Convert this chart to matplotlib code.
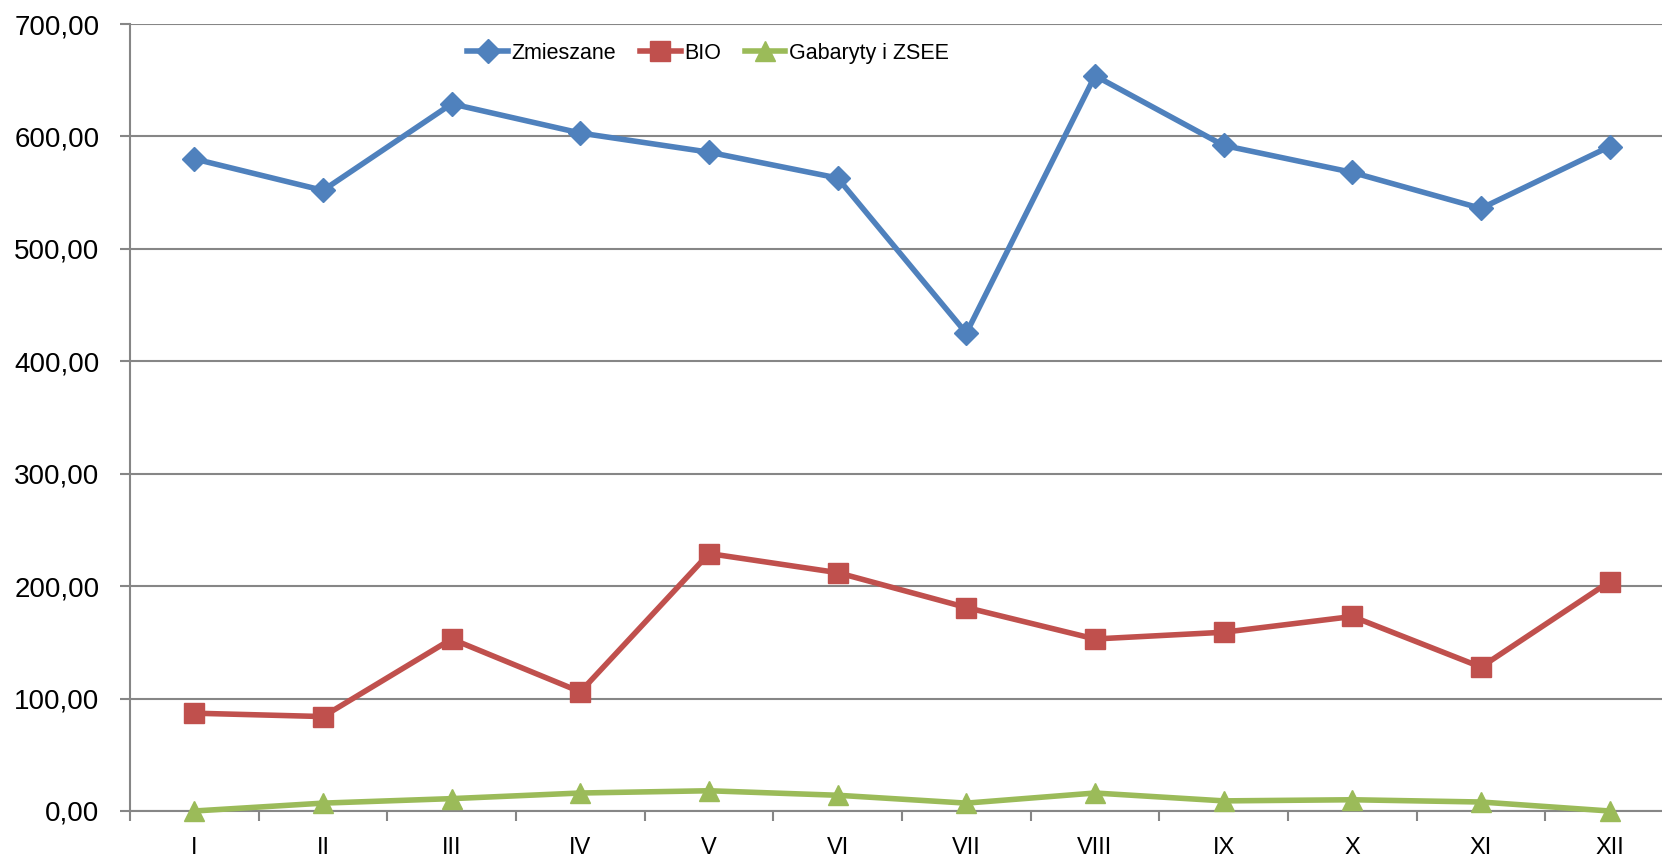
import matplotlib
matplotlib.use("Agg")
import matplotlib.pyplot as plt
from matplotlib.ticker import FuncFormatter, FixedLocator

# ==============================
# DATA
# ==============================
months = ["I", "II", "III", "IV", "V", "VI", "VII", "VIII", "IX", "X", "XI", "XII"]
zmieszane = [580, 552, 629, 603, 586, 563, 425, 654, 592, 568, 536, 591]
bio = [87, 84, 153, 106, 229, 212, 181, 153, 159, 173, 128, 204]
gabaryty = [0, 7, 11, 16, 18, 14, 7, 16, 9, 10, 8, 0]

# ==============================
# STYLE
# ==============================
BLUE = "#4F81BD"
RED = "#C0504D"
GREEN = "#9BBB59"
GRID = "#868686"
plt.rcParams["font.family"] = ["Liberation Sans", "DejaVu Sans"]

fig = plt.figure(figsize=(16.62, 8.56), dpi=100)
ax = fig.add_axes([130 / 1662, 45 / 856, 1544 / 1662, 787 / 856])

x = list(range(len(months)))
ax.plot(x, zmieszane, color=BLUE, lw=4, marker="D", ms=12, label="Zmieszane", clip_on=False, zorder=5)
ax.plot(x, bio, color=RED, lw=4, marker="s", ms=14, label="BIO", clip_on=False, zorder=4)
ax.plot(x, gabaryty, color=GREEN, lw=4, marker="^", ms=14, label="Gabaryty i ZSEE", clip_on=False, zorder=6)

ax.set_xlim(-0.5, len(months) - 0.5)
ax.set_ylim(0, 700)
ax.set_yticks(range(0, 701, 100))
ax.yaxis.set_major_formatter(FuncFormatter(lambda v, p: f"{v:.2f}".replace(".", ",")))
ax.yaxis.grid(True, color=GRID, lw=1.5)
ax.set_axisbelow(True)

ax.set_xticks(x)
ax.set_xticklabels(months, fontsize=17)
ax.xaxis.set_minor_locator(FixedLocator([i - 0.5 for i in range(len(months) + 1)]))
ax.tick_params(axis="x", which="major", length=0, pad=19)
ax.tick_params(axis="x", which="minor", length=7, width=1.5, color=GRID, direction="out")
ax.tick_params(axis="y", length=7, width=1.5, color=GRID, pad=15, labelsize=20)

for s in ["top", "right"]:
    ax.spines[s].set_visible(False)
for s in ["left", "bottom"]:
    ax.spines[s].set_color(GRID)
    ax.spines[s].set_linewidth(1.5)

fig.legend(loc="center", bbox_to_anchor=(0.426, 0.938), ncol=3, frameon=False,
           fontsize=15.5, handlelength=1.9, handletextpad=0.15, columnspacing=1.1)

fig.savefig("out.png", dpi=100)
